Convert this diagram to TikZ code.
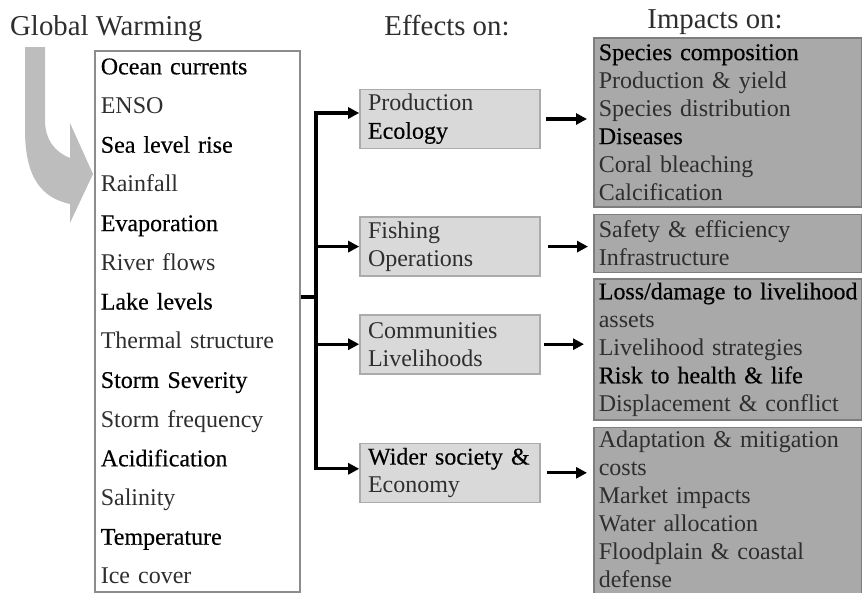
\documentclass[tikz,border=0pt]{standalone}
\usepackage{fontspec}
\setmainfont{Liberation Serif}
\newfontfamily\darkfont[FakeBold=0.35]{Liberation Serif}
\usepackage{tikz}
\usepackage{xcolor}
\usetikzlibrary{arrows.meta, positioning}
\definecolor{DrvLine}{HTML}{8C8C8C}
\definecolor{EffFill}{HTML}{D9D9D9}
\definecolor{EffLine}{HTML}{ABABAB}
\definecolor{ImpFill}{HTML}{A9A9A9}
\definecolor{ImpLine}{HTML}{7E7E7E}
\definecolor{Swoosh}{HTML}{BDBDBD}
\definecolor{SoftInk}{HTML}{2E2E2E}
\newcommand{\dk}[1]{\mbox{\darkfont\color{black}#1}}

\begin{document}
\begin{tikzpicture}[
  x=1pt, y=-1pt,
  font=\fontsize{24}{28}\selectfont,
  text=SoftInk,
  head/.style={
    font=\fontsize{28.8}{30}\selectfont,
    inner sep=0pt,
    anchor=base,
  },
  drivers/.style={
    draw=DrvLine,
    line width=1.6pt,
    align=left,
    text width=193pt,
    inner xsep=6pt,
    inner ysep=0pt,
    font=\fontsize{24}{39.2}\selectfont,
  },
  effect/.style={
    draw=EffLine,
    fill=EffFill,
    line width=1.6pt,
    text width=164pt,
    inner xsep=8pt,
    inner ysep=0pt,
    minimum height=59pt,
    align=left,
  },
  impact/.style={
    draw=ImpLine,
    fill=ImpFill,
    line width=1.6pt,
    text width=258pt,
    inner xsep=5pt,
    inner ysep=0pt,
    align=left,
  },
  link/.style={
    line width=3.2pt,
    -{Triangle[length=11pt, width=11pt]},
  },
]
  \useasboundingbox (0,0) rectangle (862,592);

  % headings
  \node[head, anchor=base west] (gw) at (10,35) {Global Warming};
  \node[head] (eff) at (447,35) {Effects on:};
  \node[head] (imp) at (715,28) {Impacts on:};

  % gray swoosh
  \fill[Swoosh] (25,47) -- (25,130)
    .. controls (25,178) and (42,198) .. (70,204)
    -- (70,223) -- (93,174) -- (70,123) -- (70,158)
    .. controls (55,152) and (45,140) .. (45,120)
    -- (45,47) -- cycle;

  % climate drivers
  \node[drivers, anchor=north west, minimum height=541pt] (drv) at (94,50) {%
    \dk{Ocean currents}\\
    ENSO\\
    \dk{Sea level rise}\\
    Rainfall\\
    \dk{Evaporation}\\
    River flows\\
    \dk{Lake levels}\\
    Thermal structure\\
    \dk{Storm Severity}\\
    Storm frequency\\
    \dk{Acidification}\\
    Salinity\\
    \dk{Temperature}\\
    Ice cover%
  };

  % effects
  \node[effect] (prod) at (450,119) {Production\\\dk{Ecology}};
  \node[effect, below=67pt of prod] (fish) {Fishing\\Operations};
  \node[effect, below=37pt of fish] (comm) {Communities\\Livelihoods};
  \node[effect, below=68pt of comm] (wider) {\dk{Wider society \&}\\Economy};

  % impacts
  \node[impact, anchor=north west, minimum height=169pt] (imp1) at (593,37) {%
    \dk{Species composition}\\
    Production \& yield\\
    Species distribution\\
    \dk{Diseases}\\
    Coral bleaching\\
    Calcification%
  };
  \node[
    impact,
    below=6pt of imp1.south west,
    anchor=north west,
    minimum height=58pt,
  ] (imp2) {%
    Safety \& efficiency\\
    Infrastructure%
  };
  \node[
    impact,
    below=5pt of imp2.south west,
    anchor=north west,
    minimum height=141pt,
  ] (imp3) {%
    \dk{Loss/damage to livelihood}\\
    assets\\
    Livelihood strategies\\
    \dk{Risk to health \& life}\\
    Displacement \& conflict%
  };
  \node[
    impact,
    below=6pt of imp3.south west,
    anchor=north west,
    minimum height=170pt,
  ] (imp4) {%
    Adaptation \& mitigation\\
    costs\\
    Market impacts\\
    Water allocation\\
    Floodplain \& coastal\\
    defense\rule[-7pt]{0pt}{7pt}%
  };

  % connectors
  \coordinate (hub) at (316,297);
  \draw[line width=3.2pt] (drv.east |- hub) -- (hub);
  \draw[link] (hub) |- ([yshift=6pt]prod.west);
  \draw[link] (hub) |- (fish.west);
  \draw[link] (hub) |- (comm.west);
  \draw[link] (hub) |- ([yshift=4pt]wider.west);

  \draw[link, shorten <=5pt, shorten >=6pt] (prod.east) -- (prod.east -| imp1.west);
  \draw[link, shorten <=7pt, shorten >=5pt] (fish.east) -- (fish.east -| imp2.west);
  \draw[link, shorten <=3pt, shorten >=9pt] (comm.east) -- (comm.east -| imp3.west);
  \draw[link, shorten <=6pt, shorten >=6pt] (wider.east) -- (wider.east -| imp4.west);
\end{tikzpicture}
\end{document}
